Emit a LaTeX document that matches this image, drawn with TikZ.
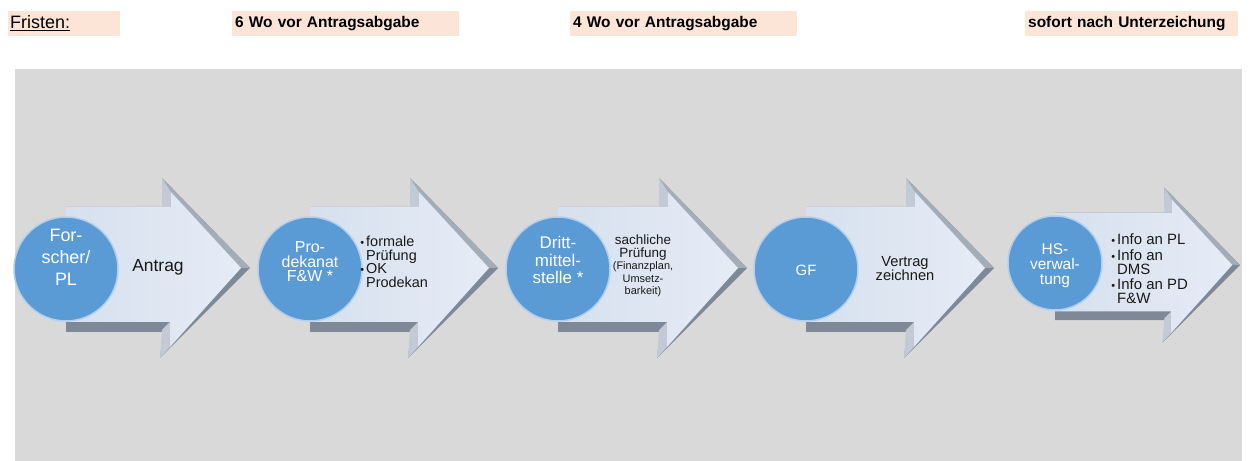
\documentclass[tikz,border=0pt]{standalone}
\usepackage{fontspec}
\setmainfont{Liberation Sans}
\definecolor{bgGray}{HTML}{D9D9D9}
\definecolor{peach}{HTML}{FCE4D6}
\definecolor{circBlue}{HTML}{5B9BD5}
\definecolor{circEdge}{HTML}{B4CFEC}
\definecolor{faceBlue}{HTML}{DCE6F2}
\definecolor{faceLeft}{HTML}{D6E0EE}
\definecolor{faceRight}{HTML}{E6ECF6}
\definecolor{bevDark}{HTML}{7F8896}
\definecolor{bevMid}{HTML}{A4ACB8}
\definecolor{bevLight}{HTML}{C3CAD5}
\newcommand\bevarrow[4]{%
 \begin{scope}[shift={(#1,#2)},scale=#3]
  \fill[bevDark] (#4,-61) -- (-87,-61) -- (-88,-90) -- (0,0) -- (-90,90) -- (-87,64) -- (#4,64) -- cycle;
  \fill[bevMid] (-88,-90) -- (0,0) -- (-9,0) -- (-79,-76) -- cycle;
  \fill[bevLight] (-88,-90) -- (-79,-76) -- (-79,-61) -- (-88,-61) -- cycle;
  \fill[bevLight] (-88,62) -- (-80,54) -- (-80,79) -- (-90,90) -- cycle;
  \shade[left color=faceLeft, right color=faceRight] (#4,-61) -- (-79,-61) -- (-79,-76) -- (-9,0) -- (-80,79) -- (-80,54) -- (#4,54) -- cycle;
 \end{scope}}
\tikzset{
  circ/.style={circle, fill=circBlue, draw=circEdge, line width=1.5bp, inner sep=0pt, minimum size=104bp},
  ctext/.style={text=white, align=center, inner sep=0pt},
  atext/.style={text=black!90, inner sep=0pt},
  lbl/.style={fill=peach, anchor=west, minimum height=25bp, inner ysep=0pt, align=left},
}
\begin{document}
\begin{tikzpicture}[x=1bp,y=-1bp]
\useasboundingbox (0,0) rectangle (1253,461);
\fill[white] (0,0) rectangle (1253,461);
\fill[bgGray] (15,69) rectangle (1242,461);

% top labels
\node[lbl, inner xsep=2bp, minimum width=112bp, text width=108bp, font=\fontsize{18}{20}\selectfont] (fr) at (8,23.5) {\underline{Fristen:}};
\node[lbl, inner xsep=3bp, minimum width=227bp, text width=221bp, font=\bfseries\fontsize{15.5}{18}\selectfont] (w6) at (232,23.5) {6 Wo vor Antragsabgabe};
\node[lbl, inner xsep=3bp, minimum width=227bp, text width=221bp, font=\bfseries\fontsize{15.5}{18}\selectfont] (w4) at (570,23.5) {4 Wo vor Antragsabgabe};
\node[lbl, inner xsep=3bp, minimum width=213bp, text width=207bp, font=\bfseries\fontsize{15.5}{18}\selectfont] (so) at (1025,23.5) {sofort nach Unterzeichung};

% arrows
\bevarrow{250}{268}{1}{-184}
\bevarrow{498}{268}{1}{-188}
\bevarrow{747}{268}{1}{-189}
\bevarrow{994}{268}{1}{-188}
\bevarrow{1240}{265}{0.86}{-215}

% circles
\node[circ] (c1) at (66,269) {};
\node[circ] (c2) at (310,269) {};
\node[circ] (c3) at (558,269) {};
\node[circ] (c4) at (806,269) {};
\node[circ, minimum size=94bp] (c5) at (1055,263) {};

\node[ctext, font=\fontsize{18}{22}\selectfont] (t1) at (66,257) {For-\\scher/\\PL};
\node[ctext, font=\fontsize{16}{14.5}\selectfont] (t2) at (310,262) {Pro-\\dekanat\\F\&W *};
\node[ctext, font=\fontsize{17}{17.5}\selectfont] (t3) at (558,260) {Dritt-\\mittel-\\stelle *};
\node[ctext, font=\fontsize{15}{15}\selectfont] (t4) at (806,270) {GF};
\node[ctext, font=\fontsize{15.5}{15}\selectfont] (t5) at (1055,266) {HS-\\verwal-\\tung};

% arrow texts
\node[atext, font=\fontsize{17.5}{20}\selectfont] (a1) at (158,267) {Antrag};
\node[atext, anchor=west, align=left, font=\fontsize{14.5}{13.5}\selectfont] (a2) at (366,262)
  {\llap{{\fontsize{11}{11}\selectfont•}\hspace{2bp}}formale\\Prüfung\\\llap{{\fontsize{11}{11}\selectfont•}\hspace{2bp}}OK\\Prodekan};
\node[atext, align=center, font=\fontsize{13.5}{12.5}\selectfont] (a3) at (643,266)
  {sachliche\\Prüfung\\{\fontsize{11}{11}\selectfont(Finanzplan,}\\{\fontsize{11}{11}\selectfont Umsetz-}\\{\fontsize{11}{11}\selectfont barkeit)}};
\node[atext, align=center, font=\fontsize{14.7}{14}\selectfont] (a4) at (905,269) {Vertrag\\zeichnen};
\node[atext, anchor=west, align=left, font=\fontsize{15}{14}\selectfont] (a5) at (1117,269)
  {\llap{{\fontsize{11}{11}\selectfont•}\hspace{2bp}}Info an PL\\[1.5bp]\llap{{\fontsize{11}{11}\selectfont•}\hspace{2bp}}Info an\\DMS\\[1.5bp]\llap{{\fontsize{11}{11}\selectfont•}\hspace{2bp}}Info an PD\\F\&W};
\end{tikzpicture}
\end{document}
